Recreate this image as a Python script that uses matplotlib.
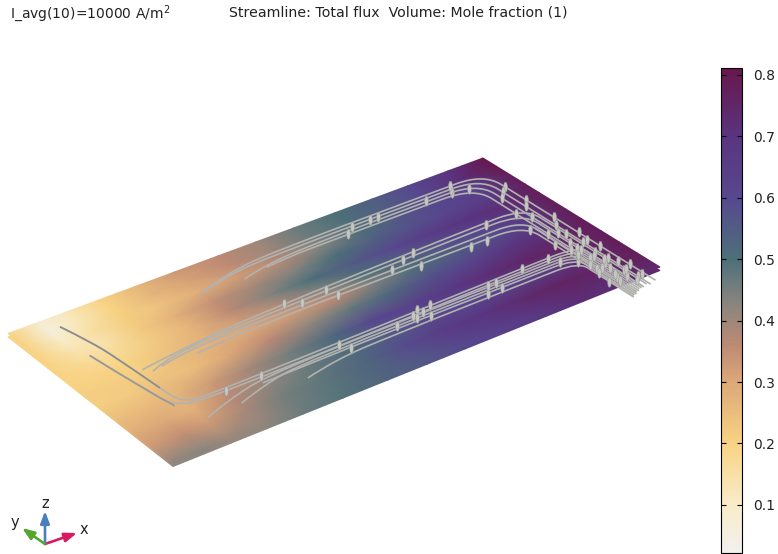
"""Mole fraction on a fuel cell plate with streamlines, drawn in plate coordinates."""
import matplotlib

matplotlib.use("Agg")
import matplotlib.pyplot as plt
from matplotlib.colors import LinearSegmentedColormap
from matplotlib.path import Path
from matplotlib.patches import PathPatch
import numpy as np

# plate corners on screen: (u,v) = (0,0), (1,0), (1,1), (0,1)
CORNERS = [(8, 333.5), (483, 158), (660, 267), (173, 463)]

FIELD_U = [0, .06, .11, .18, .25, .33, .42, .5, .58, .67, .75, .83, .92, 1]
FIELD_V = [0, .08, .16, .25, .33, .41, .48, .57, .68, .78, .88, 1]
FIELD = [
    [.20, .08, .12, .20, .26, .33, .36, .40, .46, .50, .54, .60, .70, .80],
    [.20, .06, .12, .20, .26, .31, .36, .40, .46, .50, .55, .60, .72, .80],
    [.20, .10, .15, .21, .24, .29, .33, .37, .43, .50, .56, .60, .62, .78],
    [.20, .14, .14, .22, .28, .35, .40, .44, .50, .55, .58, .62, .66, .78],
    [.20, .17, .17, .22, .27, .36, .44, .50, .55, .60, .66, .70, .72, .78],
    [.20, .20, .20, .24, .28, .33, .38, .44, .50, .54, .58, .62, .68, .78],
    [.21, .21, .21, .25, .28, .30, .33, .36, .44, .50, .54, .58, .66, .78],
    [.21, .22, .24, .25, .30, .36, .42, .47, .52, .58, .62, .68, .72, .78],
    [.25, .26, .27, .33, .39, .45, .52, .60, .63, .68, .72, .75, .76, .78],
    [.29, .30, .28, .36, .41, .46, .51, .55, .59, .60, .62, .66, .72, .78],
    [.33, .35, .33, .39, .45, .48, .53, .59, .66, .70, .74, .76, .76, .78],
    [.42, .43, .41, .42, .46, .49, .53, .56, .60, .64, .68, .72, .72, .74],
]

CMAP_VALUES = [.0218, .1, .2, .3, .36, .43, .5, .6, .7, .811]
CMAP_COLORS = ["#f2f1ee", "#f8ecc8", "#f8d383", "#dca878", "#bd8a74", "#87857f",
               "#4d7079", "#57488f", "#5a3480", "#68174c"]
CBAR_TICKS = [.1, .2, .3, .4, .5, .6, .7, .8]

TOP_LINES = [
    [(.325, .177), (.4, .12), (.5, .095), (.84, .095), (.965, .095), (.965, .30), (.965, 1.06)],
    [(.33, .175), (.4, .13), (.5, .115), (.82, .115), (.95, .115), (.95, .32), (.95, 1.07)],
    [(.413, .188), (.47, .15), (.6, .135), (.80, .135), (.935, .135), (.935, .34), (.935, 1.07)],
    [(.466, .168), (.52, .155), (.6, .155), (.78, .155), (.92, .155), (.92, .36), (.92, 1.08)],
]
MID_LINES = [
    [(.114, .47), (.2, .44), (.36, .41), (.82, .385), (.945, .385), (.945, .56), (.945, 1.06)],
    [(.125, .50), (.17, .45), (.36, .43), (.80, .41), (.93, .41), (.93, .58), (.93, 1.07)],
    [(.145, .49), (.2, .46), (.36, .45), (.80, .45), (.915, .45), (.915, .62), (.915, 1.08)],
    [(.214, .494), (.3, .47), (.78, .48), (.905, .48), (.905, .66), (.905, 1.09)],
]
LOW_LINES = [
    [(.08, .07), (.094, .21), (.101, .36), (.106, .6), (.11, .72), (.16, .735),
     (.82, .715), (.935, .715), (.935, .80), (.935, 1.06)],
    [(.07, .287), (.085, .605), (.095, .72), (.15, .755),
     (.82, .73), (.925, .73), (.925, .82), (.925, 1.07)],
    [(.118, .846), (.17, .80), (.28, .745), (.82, .745), (.915, .745), (.915, .84), (.915, 1.08)],
    [(.185, .84), (.25, .79), (.34, .76), (.82, .76), (.91, .76), (.91, .86), (.91, 1.09)],
    [(.247, .781), (.33, .775), (.80, .775), (.905, .775), (.905, .88), (.905, 1.09)],
    [(.314, .846), (.38, .81), (.5, .80), (.80, .80), (.90, .80), (.90, .90), (.90, 1.10)],
    [(.905, .895), (.90, 1.0), (.90, 1.10)],
    [(.914, .523), (.912, .8), (.91, 1.09)],
]

ARROW_U = [.663, .644, .704, .72, .823, .876, .882, .889, .908,
           .853, .785, .82, .693, .665, .631, .678, .502, .509, .444, .417,
           .61, .568, .584, .568, .588, .59, .526, .712, .727, .744, .742,
           .809, .864, .875, .185, .258, .414, .424,
           .965, .95, .935, .965, .95, .92, .935, .965, .905, .95, .92, .935,
           .965, .905, .93, .95, .915, .93, .965, .945, .90, .92, .95, .935,
           .91, .93, .965, .945, .92, .90, .935, .95,
           .945, .93, .915, .96, .925, .94, .91, .955, .92, .935, .905, .95, .925, .915, .94, .96]
ARROW_V = [.12, .15, .12, .12, .13, .14, .12, .095, .155,
           .40, .49, .49, .40, .42, .45, .49, .42, .47, .44, .41,
           .72, .74, .72, .76, .74, .78, .76, .78, .74, .74, .78,
           .72, .72, .76, .75, .74, .74, .78,
           .22, .25, .28, .34, .38, .40, .45, .50, .52, .55, .58, .60,
           .64, .66, .68, .70, .72, .74, .76, .78, .80, .82, .84, .86,
           .88, .90, .92, .94, .96, .97, .98, 1.0,
           .62, .72, .76, .70, .80, .84, .84, .88, .88, .80, .90, .94, .94, .99, 1.02, 1.0]


def project(u, v):
    """Map plate coordinates to screen pixels with a projective transform."""
    (x0, y0), (x1, y1), (x2, y2), (x3, y3) = CORNERS
    den = (x1 - x2) * (y3 - y2) - (x3 - x2) * (y1 - y2)
    sx, sy = x0 - x1 + x2 - x3, y0 - y1 + y2 - y3
    g = (sx * (y3 - y2) - (x3 - x2) * sy) / den
    h = ((x1 - x2) * sy - sx * (y1 - y2)) / den
    w = g * u + h * v + 1
    x = ((x1 - x0 + g * x1) * u + (x3 - x0 + h * x3) * v + x0) / w
    y = ((y1 - y0 + g * y1) * u + (y3 - y0 + h * y3) * v + y0) / w
    return x, y


def streamline(points):
    """Smooth path through the control points, in screen pixels."""
    pts = np.array([project(u, v) for u, v in points])
    verts = [pts[0]]
    codes = [Path.MOVETO]
    for i in range(1, len(pts) - 1):
        end = pts[i + 1] if i == len(pts) - 2 else (pts[i] + pts[i + 1]) / 2
        verts += [pts[i], end]
        codes += [Path.CURVE3, Path.CURVE3]
    return Path(verts, codes)


cmap = LinearSegmentedColormap.from_list(
    "mole",
    [((a - CMAP_VALUES[0]) / (CMAP_VALUES[-1] - CMAP_VALUES[0]), c)
     for a, c in zip(CMAP_VALUES, CMAP_COLORS)],
)

fig = plt.figure(figsize=(7.78, 5.54), dpi=100)
ax = fig.add_axes([0, 0, 1, 1])
ax.set_xlim(0, 778)
ax.set_ylim(554, 0)
ax.axis("off")

uu, vv = np.meshgrid(FIELD_U, FIELD_V)
px, py = project(uu, vv)
field = np.array(FIELD)
# side faces: same plate pushed down a few pixels, then the top
ax.pcolormesh(px, py + 3.5, field, shading="gouraud", cmap=cmap,
              vmin=CMAP_VALUES[0], vmax=CMAP_VALUES[-1], zorder=1)
mesh = ax.pcolormesh(px, py, field, shading="gouraud", cmap=cmap,
                     vmin=CMAP_VALUES[0], vmax=CMAP_VALUES[-1], zorder=2)

for line in TOP_LINES + MID_LINES + LOW_LINES:
    ax.add_patch(PathPatch(streamline(line), fc="none", ec="#b2b2b0", lw=1.2, zorder=3))
# dark stretch on the start of the left header
ax.add_patch(PathPatch(streamline(LOW_LINES[0][:4]), fc="none", ec="#8c8c8c", lw=1.2, zorder=3))
ax.add_patch(PathPatch(streamline(LOW_LINES[1][:3]), fc="none", ec="#989898", lw=1.2, zorder=3))

glyph = [(0, -4), (1.1, -3), (1.6, 1), (0.9, 4), (-0.9, 4), (-1.6, 1), (-1.1, -3), (0, -4)]
ax_x, ax_y = project(np.array(ARROW_U), np.array(ARROW_V))
ax.plot(ax_x, ax_y, ls="none", marker=glyph, ms=7, mfc="#c6c6c2", mec="#9a9a97", mew=0.4, zorder=4)

# coordinate triad
for tip, col in [((77, 533), "#d81b60"), ((45, 511), "#4a7fbf"), ((22, 528), "#55a630")]:
    ax.annotate("", xy=tip, xytext=(45, 544),
                arrowprops=dict(arrowstyle="-|>,head_width=0.3,head_length=0.8", color=col, lw=1.9,
                                mutation_scale=9, shrinkA=0, shrinkB=0))
ax.text(84, 529, "x", fontsize=10.5, ha="center", va="center", color="#222222")
ax.text(15, 523, "y", fontsize=10.5, ha="center", va="center", color="#222222")
ax.text(45, 503, "z", fontsize=10.5, ha="center", va="center", color="#222222")

ax.text(10, 14, "I_avg(10)=10000 A/m$^2$", fontsize=10, ha="left", va="center", color="#222222")
ax.text(229, 12, "Streamline: Total flux  Volume: Mole fraction (1)", fontsize=10.2,
        ha="left", va="center", color="#222222")

cax = fig.add_axes([721 / 778, 1 - 553 / 554, 21 / 778, 485 / 554])
cbar = fig.colorbar(mesh, cax=cax, ticks=CBAR_TICKS)
cbar.ax.set_yticklabels([f"{t:.1f}" for t in CBAR_TICKS])
cbar.ax.tick_params(which="both", direction="in", left=True, right=True, length=3.5, width=0.8,
                    labelsize=10, pad=8, labelcolor="#222222")

fig.savefig("out.png", dpi=100)
